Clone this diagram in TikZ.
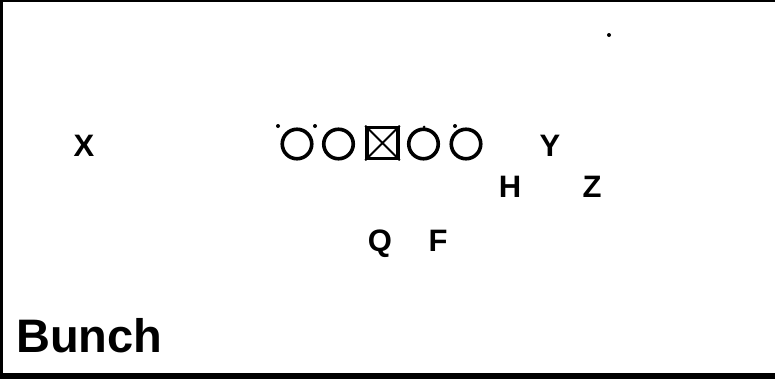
\documentclass[tikz,border=0pt]{standalone}
\usepackage{fontspec}
\setmainfont{Liberation Sans}
\begin{document}
\begin{tikzpicture}[x=1pt,y=-1pt,
  player/.style={font=\bfseries\fontsize{31}{31}\selectfont, inner sep=0pt, anchor=base},
  lineman/.style={circle, draw, line width=3.6pt, minimum size=29.5pt, inner sep=0pt},
  centerbox/.style={rectangle, draw, line width=3.6pt, minimum size=31pt, inner sep=0pt},
  dot/.style={circle, fill, inner sep=0pt, minimum size=4pt}]
\useasboundingbox (0,0) rectangle (775,381);
\fill[white] (0,0) rectangle (775,381);
% frame
\draw[line width=2.5pt] (0,1) -- (775,1);
\draw[line width=3.5pt] (1.5,0) -- (1.5,376);
\draw[line width=6.5pt] (0,376) -- (775,376);
% line
\node[lineman] (lt) at (297,144) {};
\node[lineman] (lg) at (338.5,144) {};
\node[centerbox] (c) at (382.5,143) {};
\draw[line width=1.8pt] (c.north west) -- (c.south east) (c.north east) -- (c.south west);
\node[lineman] (rg) at (423.5,144) {};
\node[lineman] (rt) at (466,144) {};
% dots
\node[dot] (d1) at (278,126) {};
\node[dot] (d2) at (315,126) {};
\node[dot, minimum size=3pt] (d3) at (424,127) {};
\node[dot] (d4) at (455,126) {};
\node[dot] (d5) at (609,35) {};
% players
\node[player] (x) at (84,156) {X};
\node[player] (y) at (550,156) {Y};
\node[player] (h) at (510,197) {H};
\node[player] (z) at (592,197) {Z};
\node[player] (q) at (380,251) {Q};
\node[player] (f) at (438,251) {F};
\node[font=\bfseries\fontsize{47}{47}\selectfont, anchor=base west, inner sep=0pt] (title) at (16,352) {Bunch};
\end{tikzpicture}
\end{document}
